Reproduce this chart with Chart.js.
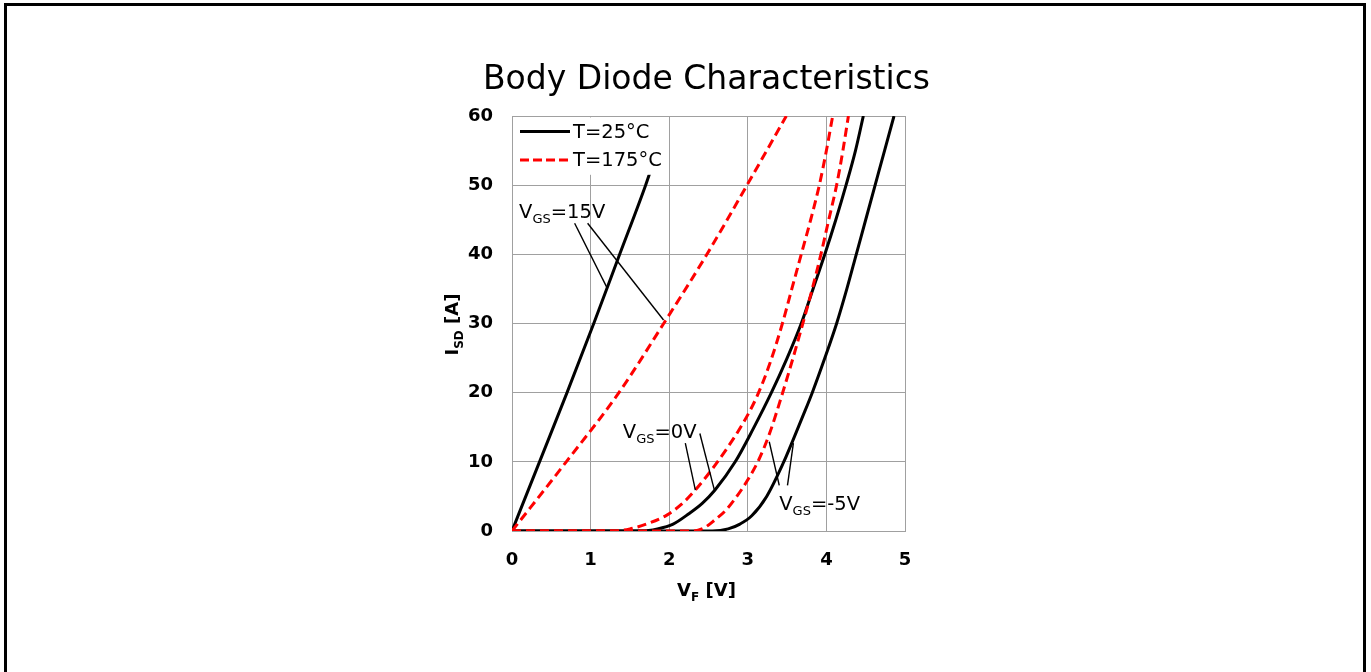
<!DOCTYPE html>
<html><head><meta charset="utf-8">
<script src="https://cdn.jsdelivr.net/npm/chart.js@4.4.1/dist/chart.umd.min.js"></script>
<style>
html,body{margin:0;padding:0;background:#fff;overflow:hidden;width:1371px;height:672px;}
#frame{position:absolute;left:4px;top:3px;width:1356px;height:760px;border:3px solid #000;}
#wrap{position:absolute;left:0;top:0;width:1371px;height:672px;}
</style></head><body>
<div id="frame"></div>
<div id="wrap"><canvas id="c" width="1371" height="672"></canvas></div>
<script>
// ---- data (VF in V, ISD in A) ----
const titleText = 'Body Diode Characteristics';
const xTicks = [0, 1, 2, 3, 4, 5];
const yTicks = [0, 10, 20, 30, 40, 50, 60];
const legendLabels = ['T=25°C', 'T=175°C'];

// T=25°C, VGS=15V
const v_25C_15V = [0, 0.35, 0.70, 1.04, 1.37, 1.70, 1.76];
const i_25C_15V = [0, 10, 20, 30, 40, 50, 52];

// T=175°C, VGS=15V
const v_175C_15V = [0, 0.69, 1.36, 1.93, 2.48, 2.99, 3.49];
const i_175C_15V = [0, 10, 20, 30, 40, 50, 60];

// T=25°C, VGS=0V
const v_25C_0V = [0, 1.65, 1.85, 2.05, 2.25, 2.42, 2.58, 2.84, 3.07, 3.30, 3.50, 3.68, 3.83, 3.98, 4.12, 4.25, 4.37, 4.47];
const i_25C_0V = [0, 0, 0.3, 1.0, 2.5, 4.0, 5.9, 10, 14.8, 20, 25, 30, 35, 40, 45, 50, 55, 60];

// T=175°C, VGS=0V
const v_175C_0V = [0, 1.30, 1.50, 1.71, 1.97, 2.15, 2.33, 2.55, 2.75, 2.94, 3.11, 3.28, 3.44, 3.56, 3.68, 3.80, 3.91, 4.00, 4.08];
const i_175C_0V = [0, 0, 0.3, 1.0, 2.3, 3.8, 5.9, 9.0, 12.2, 15.6, 19.3, 24.2, 30, 35, 40, 45, 50, 55, 60];

// T=25°C, VGS=-5V
const v_25C_m5V = [0, 2.55, 2.75, 2.90, 3.05, 3.24, 3.45, 3.57, 3.70, 3.82, 3.98, 4.13, 4.26, 4.38, 4.50, 4.62, 4.74, 4.86];
const i_25C_m5V = [0, 0, 0.3, 1.0, 2.2, 5.0, 9.8, 13, 16.6, 20, 25, 30, 35, 40, 45, 50, 55, 60];

// T=175°C, VGS=-5V
const v_175C_m5V = [0, 2.30, 2.45, 2.58, 2.72, 2.86, 3.00, 3.14, 3.28, 3.43, 3.57, 3.70, 3.82, 3.93, 4.03, 4.13, 4.21, 4.28];
const i_175C_m5V = [0, 0, 0.5, 1.6, 3.0, 5.0, 7.4, 10.3, 14.2, 19.5, 24.8, 30, 35, 40, 45, 50, 55, 60];

// leader lines of the annotations: [v0, i0, v1, i1]
const leader15V_a = [0.797, 44.5, 1.203, 35.3];
const leader15V_b = [0.962, 44.5, 1.928, 30.5];
const leader0V_a = [2.205, 12.7, 2.333, 5.9];
const leader0V_b = [2.39, 14.1, 2.575, 5.9];
const leaderM5V_a = [3.273, 12.9, 3.40, 6.6];
const leaderM5V_b = [3.58, 12.7, 3.505, 6.6];

// annotation labels: main, subscript, rest, anchor (V, I)
const annotTexts = [
  ['V', 'GS', '=15V', 0.09, 45.2],
  ['V', 'GS', '=0V', 1.41, 13.5],
  ['V', 'GS', '=-5V', 3.40, 3.0]
];

function pts(v, i) { return v.map((x, k) => ({x: x, y: i[k]})); }
function seg(a) { return [{x: a[0], y: a[1]}, {x: a[2], y: a[3]}]; }

const RED = '#ff0000', BLACK = '#000000';
const curve = (data, color, dashed) => ({
  data: data, borderColor: color, borderWidth: 3, borderDash: dashed ? [9, 5] : [],
  pointRadius: 0, fill: false, cubicInterpolationMode: 'monotone', borderCapStyle: 'butt'
});
const leader = (a) => ({ data: seg(a), borderColor: BLACK, borderWidth: 1.4, pointRadius: 0, fill: false });

const datasets = [
  leader(leader15V_a), leader(leader15V_b), leader(leader0V_a), leader(leader0V_b),
  leader(leaderM5V_a), leader(leaderM5V_b),
  curve(pts(v_175C_15V, i_175C_15V), RED, true),
  curve(pts(v_175C_0V, i_175C_0V), RED, true),
  curve(pts(v_175C_m5V, i_175C_m5V), RED, true),
  curve(pts(v_25C_15V, i_25C_15V), BLACK, false),
  curve(pts(v_25C_0V, i_25C_0V), BLACK, false),
  curve(pts(v_25C_m5V, i_25C_m5V), BLACK, false)
];

function drawSubText(ctx, parts, x, y, size, subSize, weight, align) {
  const f1 = weight + ' ' + size + 'px "DejaVu Sans"';
  const f2 = weight + ' ' + subSize + 'px "DejaVu Sans"';
  let total = 0;
  parts.forEach(p => { ctx.font = p[1] ? f2 : f1; total += ctx.measureText(p[0]).width; });
  let cx = align === 'center' ? x - total / 2 : x;
  ctx.textAlign = 'left';
  ctx.textBaseline = 'alphabetic';
  parts.forEach(p => {
    ctx.font = p[1] ? f2 : f1;
    ctx.fillText(p[0], cx, p[1] ? y + size * 0.25 : y);
    cx += ctx.measureText(p[0]).width;
  });
}

const overlay = {
  id: 'overlay',
  afterDatasetsDraw(chart) {
    const {ctx, chartArea: ca, scales: {x, y}} = chart;
    ctx.save();
    // legend box
    const bx0 = ca.left + 1.5, by0 = ca.top + 1.5;
    const bx1 = x.getPixelForValue(1.98), by1 = y.getPixelForValue(51.5);
    ctx.fillStyle = '#ffffff';
    ctx.fillRect(bx0, by0, bx1 - bx0, by1 - by0);
    const styles = [[BLACK, []], [RED, [9, 4]]];
    legendLabels.forEach((lab, k) => {
      const ly = ca.top + 15.5 + k * 28.5;
      ctx.beginPath();
      ctx.strokeStyle = styles[k][0];
      ctx.lineWidth = 3;
      ctx.setLineDash(styles[k][1]);
      ctx.moveTo(ca.left + 8, ly);
      ctx.lineTo(ca.left + 58, ly);
      ctx.stroke();
      ctx.setLineDash([]);
      ctx.fillStyle = BLACK;
      ctx.font = '19.5px "DejaVu Sans"';
      ctx.textAlign = 'left';
      ctx.textBaseline = 'middle';
      ctx.fillText(lab, ca.left + 61, ly + 1);
    });
    // annotation labels
    ctx.fillStyle = BLACK;
    annotTexts.forEach(a => {
      drawSubText(ctx, [[a[0], false], [a[1], true], [a[2], false]],
        x.getPixelForValue(a[3]), y.getPixelForValue(a[4]), 19.5, 13, 'normal', 'left');
    });
    ctx.restore();
  },
  afterDraw(chart) {
    const {ctx, chartArea: ca} = chart;
    ctx.save();
    ctx.fillStyle = BLACK;
    // x axis title
    drawSubText(ctx, [['V', false], ['F', true], [' [V]', false]],
      (ca.left + ca.right) / 2 - 2, ca.bottom + 65, 18, 12, 'bold', 'center');
    // y axis title
    ctx.translate(ca.left - 54, (ca.top + ca.bottom) / 2 + 1);
    ctx.rotate(-Math.PI / 2);
    drawSubText(ctx, [['I', false], ['SD', true], [' [A]', false]], 0, 0, 18, 12, 'bold', 'center');
    ctx.restore();
  }
};

const tickFont = {family: 'DejaVu Sans', size: 18, weight: 'bold'};
const gridColor = '#a0a0a0';

new Chart(document.getElementById('c'), {
  type: 'line',
  data: { datasets: datasets },
  plugins: [overlay],
  options: {
    responsive: false,
    animation: false,
    events: [],
    layout: { padding: { left: 452, right: 410, top: 60.2, bottom: 61 } },
    plugins: {
      legend: { display: false },
      tooltip: { enabled: false },
      title: {
        display: true, text: titleText, color: BLACK,
        font: { family: 'DejaVu Sans', size: 33, weight: 'normal' },
        padding: { top: 0, bottom: 16.2 }
      }
    },
    scales: {
      x: {
        type: 'linear', min: 0, max: 5,
        afterBuildTicks: s => { s.ticks = xTicks.map(v => ({value: v})); },
        afterFit: s => { s.height = 80; },
        ticks: { font: tickFont, color: BLACK, padding: 19, maxRotation: 0 },
        grid: { color: gridColor, lineWidth: 1, drawTicks: false },
        border: { color: gridColor, width: 1 }
      },
      y: {
        type: 'linear', position: 'left', min: 0, max: 60,
        afterBuildTicks: s => { s.ticks = yTicks.map(v => ({value: v})); },
        afterFit: s => { s.width = 60; },
        ticks: { font: tickFont, color: BLACK, padding: 19 },
        grid: { color: gridColor, lineWidth: 1, drawTicks: false },
        border: { color: gridColor, width: 1 }
      },
      ySpacer: {
        type: 'linear', position: 'right', display: true,
        afterFit: s => { s.width = 56; },
        ticks: { display: false },
        grid: { display: false, drawTicks: false },
        border: { display: false }
      }
    }
  }
});
</script>
</body></html>
